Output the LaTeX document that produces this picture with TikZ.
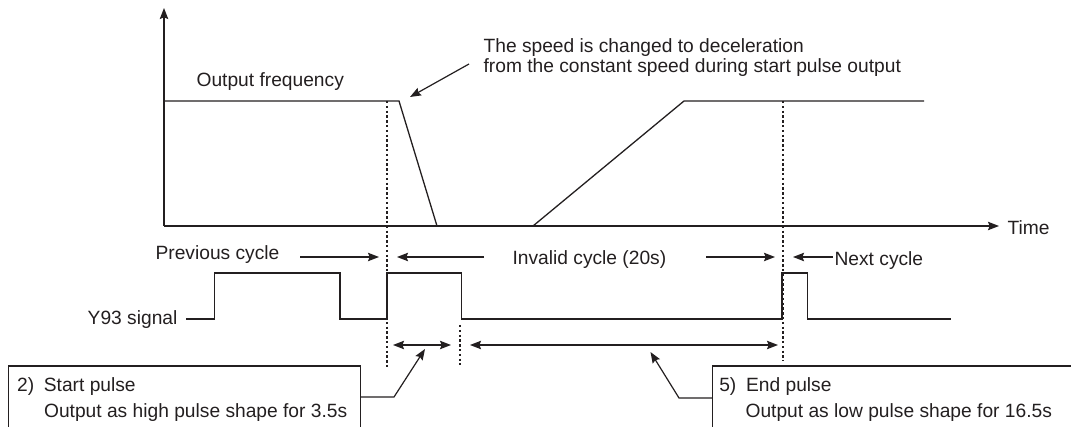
\documentclass[tikz,border=0pt]{standalone}
\usepackage{fontspec}
\setmainfont{Liberation Sans}
\usepackage{xcolor}
\usetikzlibrary{arrows.meta,positioning}
\definecolor{ink}{RGB}{35,31,32}
\newcommand{\pulsetag}[1]{\makebox[13.4pt][l]{#1}}

\begin{document}
\begin{tikzpicture}[x=0.5pt,y=-0.5pt,>={Stealth[length=5.5pt,width=4.2pt,inset=0.8pt]},
color=ink,line width=0.6pt,
txt/.style={inner sep=0pt,font=\fontsize{9.6}{11.5}\selectfont},
cut/.style={dash pattern=on 1.2pt off 1.2pt,line width=0.6pt},
sig/.style={line width=0.65pt}]
\useasboundingbox (0,0) rectangle (1071,427);

\coordinate (org) at (164,226);
\coordinate (ytip) at (164,8);
\coordinate (xtip) at (999,226);
\draw[->] (org) -- (ytip);
\draw[->] (org) -- (xtip);
\node[txt,anchor=west] (time) at (1007,228) {Time};

\draw[sig] (164,101) -- (399,101) -- (437,226);
\draw[sig] (533,226) -- (684,101) -- (924,101);
\node[txt,anchor=base west] (freq) at (196,87) {Output frequency};
\node[txt,anchor=base west] (speed1) at (483,53) {The speed is changed to deceleration};
\node[txt,anchor=base west] (speed2) at (483,73) {from the constant speed during start pulse output};
\coordinate (callA) at (469,64);
\coordinate (knee) at (410,97);
\draw[->] (callA) -- (knee);

\coordinate (c1) at (387,101);
\coordinate (c2) at (783,101);
\draw[cut] (c1) -- (387,367);
\draw[cut] (c2) -- (783,361);
\draw[cut] (460,325) -- (460,365);

\draw[sig] (186,319) -- (214.5,319) -- (214.5,273) -- (340,273) -- (340,319) -- (387,319) -- (387,273)
  -- (461.5,273) -- (461.5,319) -- (782,319) -- (782,273) -- (807.5,273) -- (807.5,319) -- (951,319);
\node[txt,anchor=base east] (y93) at (178,324) {Y93 signal};

\node[txt,anchor=base west] (prev) at (155,260) {Previous cycle};
\node[txt,anchor=base west] (inval) at (512,265) {Invalid cycle (20s)};
\node[txt,anchor=base west] (next) at (834,266) {Next cycle};
\coordinate (r1) at (387,257);
\coordinate (r2) at (783,257);
\draw[->] ([xshift=-43.5pt]r1) -- ([xshift=-4pt]r1);
\draw[->] ([xshift=48.5pt]r1) -- ([xshift=5pt]r1);
\draw[->] ([xshift=-38.5pt]r2) -- ([xshift=-4pt]r2);
\draw[->] ([xshift=25pt]r2) -- ([xshift=5pt]r2);

\coordinate (m1) at (387,345);
\coordinate (m2) at (460,345);
\coordinate (m3) at (783,345);
\draw[<->] ([xshift=3pt]m1) -- ([xshift=-4.5pt]m2);
\draw[<->] ([xshift=5pt]m2) -- ([xshift=-2.5pt]m3);

\draw (8.5,430) |- (360.5,366) -- (360.5,430);
\draw (712.5,430) |- (1075,366);
\node[txt,anchor=base west] (start) at (16.5,391) {\pulsetag{2)}Start pulse};
\node[txt,anchor=base west] (startd) at (43.5,417) {Output as high pulse shape for 3.5s};
\node[txt,anchor=base west] (endp) at (718.7,391) {\pulsetag{5)}End pulse};
\node[txt,anchor=base west] (endd) at (745,417) {Output as low pulse shape for 16.5s};

\coordinate (boxA) at (360.5,397);
\coordinate (boxB) at (712.5,398);
\coordinate (tipA) at (425,349);
\coordinate (tipB) at (650.5,352);
\draw[->] (boxA) -- (394,397) -- (tipA);
\draw[->] (boxB) -- (679,398) -- (tipB);
\end{tikzpicture}
\end{document}
